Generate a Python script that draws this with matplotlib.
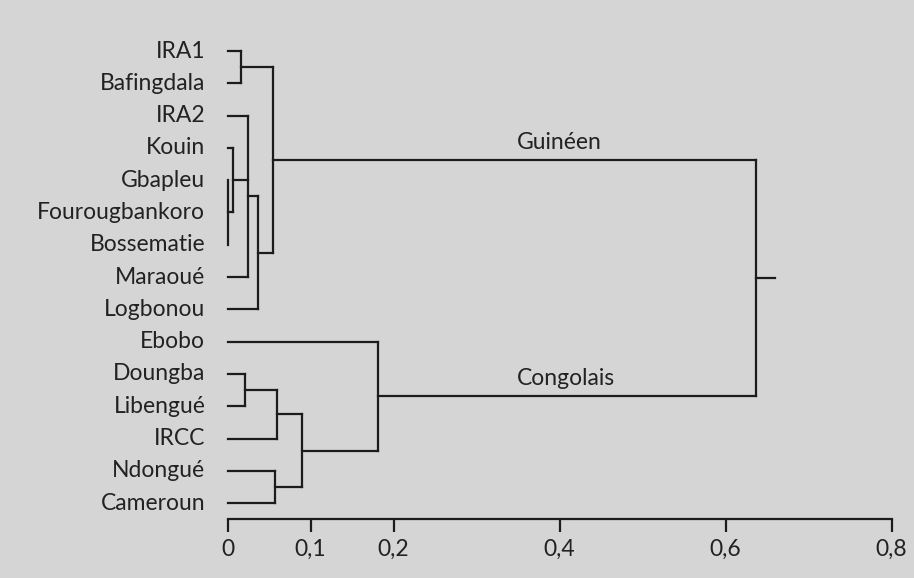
import matplotlib
matplotlib.use('Agg')
from matplotlib import pyplot as plt

leaves = ['IRA1', 'Bafingdala', 'IRA2', 'Kouin', 'Gbapleu', 'Fourougbankoro',
          'Bossematie', 'Maraoué', 'Logbonou', 'Ebobo', 'Doungba', 'Libengué',
          'IRCC', 'Ndongué', 'Cameroun']

# each merge joins leaves (0..14) or earlier merges (15, 16, ...) at a distance
merge_children = [[0, 1], [4, 5, 6], [3, 16], [2, 17, 7], [18, 8], [15, 19],
                  [10, 11], [21, 12], [13, 14], [22, 23], [9, 24], [20, 25]]
merge_heights = [0.016, 0.0, 0.006, 0.025, 0.036, 0.055,
                 0.021, 0.059, 0.057, 0.09, 0.181, 0.636]
root_tail = 0.66

group_names = ['Guinéen', 'Congolais']
group_nodes = [20, 25]

ticks = [0, 0.1, 0.2, 0.4, 0.6, 0.8]
tick_labels = ['0', '0,1', '0,2', '0,4', '0,6', '0,8']

plt.rcParams['font.family'] = ['Lato', 'DejaVu Sans']
bg = '#d5d5d5'
ink = '#1c1c1c'
lw = 1.6
fs = 16.5

fig = plt.figure(figsize=(9.14, 5.78), dpi=100, facecolor=bg)
ax = fig.add_axes([0, 0, 1, 1], facecolor=bg)

node_x = [0.0] * len(leaves)
node_y = [float(i) for i in range(len(leaves))]
for children, h in zip(merge_children, merge_heights):
    ys = [node_y[c] for c in children]
    for c in children:
        ax.plot([node_x[c], h], [node_y[c], node_y[c]], color=ink, lw=lw,
                solid_capstyle='projecting')
    ax.plot([h, h], [min(ys), max(ys)], color=ink, lw=lw,
            solid_capstyle='projecting')
    node_x.append(h)
    node_y.append((min(ys) + max(ys)) / 2)
ax.plot([node_x[-1], root_tail], [node_y[-1], node_y[-1]], color=ink, lw=lw)

for i, name in enumerate(leaves):
    ax.text(-0.027, i, name, ha='right', va='center', fontsize=fs, color='#222222')

for name, n in zip(group_names, group_nodes):
    ax.text(0.348, node_y[n] - 0.35, name, ha='left', va='baseline',
            fontsize=fs, color='#222222')

ax.set_xlim(-0.2743, 0.8269)
ax.set_ylim(16.32, -1.58)
for s in ['top', 'right', 'left']:
    ax.spines[s].set_visible(False)
ax.spines['bottom'].set_position(('data', 14.5))
ax.spines['bottom'].set_bounds(0, 0.8)
ax.spines['bottom'].set_color(ink)
ax.spines['bottom'].set_linewidth(lw)
ax.set_xticks(ticks)
ax.set_xticklabels(tick_labels)
ax.tick_params(axis='x', direction='out', length=9, width=lw, color=ink,
               labelsize=fs, labelcolor='#222222', pad=5)
ax.set_yticks([])

plt.savefig('out.png', dpi=100, facecolor=bg)
